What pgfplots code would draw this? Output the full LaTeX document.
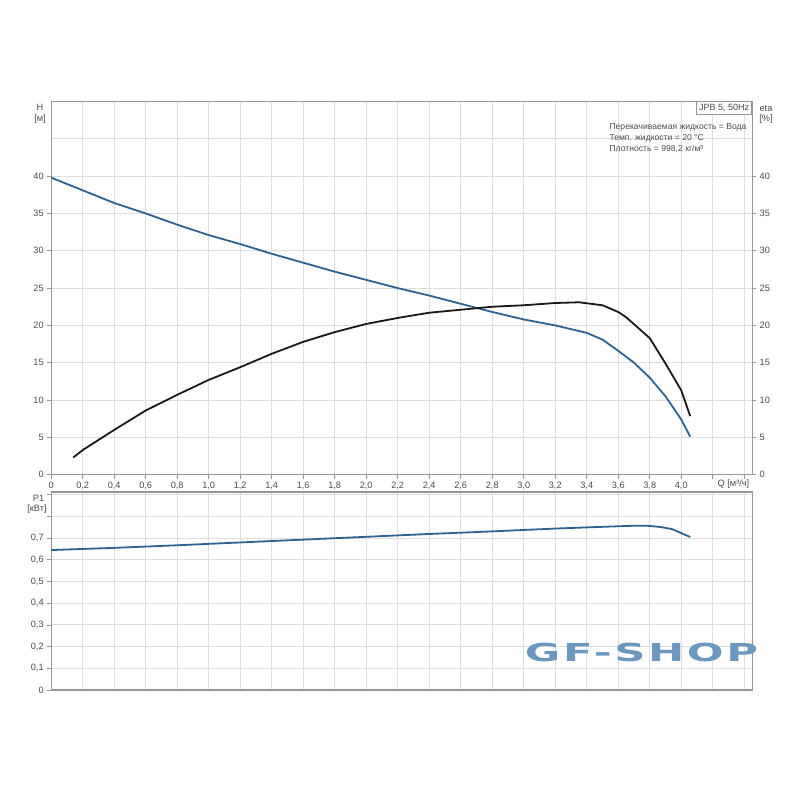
\documentclass[border=0pt]{standalone}
\usepackage{pgfplots}
\pgfplotsset{compat=1.18}
\usepackage{fontspec}
\setmainfont{Liberation Sans}
\newfontfamily\wmfont[LetterSpace=6]{DejaVu Sans}
\definecolor{hblue}{RGB}{46,98,142}
\definecolor{gridc}{RGB}{222,222,222}
\definecolor{axc}{RGB}{150,150,150}
\definecolor{txt}{RGB}{75,75,75}
\definecolor{wm}{RGB}{108,152,192}
\pgfplotsset{
  base/.style={
    scale only axis, anchor=south west,
    xmin=0, xmax=4.45, width=700.9pt,
    grid=major, major grid style={draw=gridc, line width=0.9pt},
    axis line style={draw=axc, line width=1.1pt},
    tick align=outside, major tick length=4pt,
    tick style={draw=axc, line width=0.8pt},
    ticklabel style={font=\fontsize{9.2}{10}\selectfont, text=txt},
    /pgf/number format/assume math mode=true,
    tick pos=left,
    xtick={0,0.2,0.4,0.6,0.8,1.0,1.2,1.4,1.6,1.8,2.0,2.2,2.4,2.6,2.8,3.0,3.2,3.4,3.6,3.8,4.0,4.2,4.4},
  }
}
\begin{document}
\begin{tikzpicture}[x=1pt,y=1pt]
\path[use as bounding box] (0,0) rectangle (800,800);
% ---------- top axis: H and eta ----------
\begin{axis}[base, at={(51.2pt,325.3pt)}, height=373.2pt,
  ymin=0, ymax=50,
  ytick={0,5,10,15,20,25,30,35,40},
  minor ytick={45}, minor grid style={draw=gridc, line width=0.9pt}, minor tick length=0pt,
  yticklabels={0,5,10,15,20,25,30,35,40},
  xticklabels={0,{0,2},{0,4},{0,6},{0,8},{1,0},{1,2},{1,4},{1,6},{1,8},{2,0},{2,2},{2,4},{2,6},{2,8},{3,0},{3,2},{3,4},{3,6},{3,8},{4,0},{},{}},
  grid=both,
]
\addplot[hblue, line width=1.8pt] coordinates {
(0,39.8) (0.2,38.1) (0.4,36.4) (0.6,35.0) (0.8,33.5) (1.0,32.1) (1.2,30.9) (1.4,29.6)
(1.6,28.4) (1.8,27.2) (2.0,26.1) (2.2,25.0) (2.4,24.0) (2.6,22.9) (2.8,21.8) (3.0,20.8)
(3.2,20.0) (3.4,19.0) (3.5,18.1) (3.6,16.6) (3.7,15.0) (3.8,13.0) (3.9,10.5) (4.0,7.4) (4.057,5.1)
};
\addplot[black!90, line width=1.8pt] coordinates {
(0.14,2.3) (0.2,3.3) (0.4,6.0) (0.6,8.6) (0.8,10.7) (1.0,12.7) (1.2,14.4) (1.4,16.2)
(1.6,17.8) (1.8,19.1) (2.0,20.2) (2.2,21.0) (2.4,21.7) (2.6,22.1) (2.8,22.5) (3.0,22.7)
(3.2,23.0) (3.35,23.1) (3.5,22.7) (3.6,21.8) (3.65,21.1) (3.8,18.3) (3.9,14.9) (4.0,11.3) (4.057,7.85)
};
\node[draw=axc, fill=white, line width=0.8pt, anchor=north east, inner sep=2.5pt,
  font=\fontsize{9}{10}\selectfont, text=txt] at (rel axis cs:1,1) {JPB 5, 50Hz};
\end{axis}
% right eta scale
\begin{axis}[scale only axis, anchor=south west, at={(51.2pt,325.3pt)},
  width=700.9pt, height=373.2pt, xmin=0, xmax=4.45, ymin=0, ymax=50,
  axis x line=none, axis y line*=right,
  axis line style={draw=axc, line width=1.1pt},
  tick align=outside, major tick length=4pt,
  tick style={draw=axc, line width=0.8pt},
  ticklabel style={font=\fontsize{9.2}{10}\selectfont, text=txt},
  /pgf/number format/assume math mode=true,
  ytick={0,5,10,15,20,25,30,35,40},
]
\addplot[draw=none] coordinates {(0,0) (1,1)};
\end{axis}
% ---------- bottom axis: P1 ----------
\begin{axis}[base, at={(51.2pt,110pt)}, height=198pt,
  ymin=0, ymax=0.9125,
  ytick={0,0.1,0.2,0.3,0.4,0.5,0.6,0.7,0.8,0.9},
  yticklabels={0,{0,1},{0,2},{0,3},{0,4},{0,5},{0,6},{0,7},{},{}},
  xticklabels={}, xtick style={draw=none},
]
\addplot[hblue, line width=1.8pt] coordinates {
(0,0.645) (0.4,0.655) (0.8,0.667) (1.2,0.680) (1.6,0.693) (2.0,0.706) (2.4,0.719)
(2.8,0.731) (3.2,0.744) (3.5,0.752) (3.7,0.757) (3.78,0.757) (3.86,0.752) (3.94,0.742) (4.057,0.705)
};
\end{axis}
% axis titles and notes
\begin{scope}[every node/.style={font=\fontsize{9.2}{10}\selectfont, text=txt, inner sep=0pt}]
\node at (40,692.3) {H};
\node at (40,680.7) {[м]};
\node at (766,691.7) {eta};
\node at (766,680.7) {[\%]};
\node at (38.5,302) {P1};
\node at (37,291) {[кВт]};
\node at (733.5,316) {Q [м³/ч]};
\end{scope}
\begin{scope}[every node/.style={font=\fontsize{8.6}{10}\selectfont, text=txt, inner sep=0pt, anchor=west}]
\node at (609.3,672.7) {Перекачиваемая жидкость = Вода};
\node at (609.3,661.3) {Темп. жидкости = 20 °C};
\node at (609.3,650.7) {Плотность = 998,2 кг/м³};
\end{scope}
\node[text=wm, inner sep=0pt] at (641.5,147.5)
  {\resizebox{233pt}{18.4pt}{\wmfont\bfseries GF-SHOP}};
\end{tikzpicture}
\end{document}
